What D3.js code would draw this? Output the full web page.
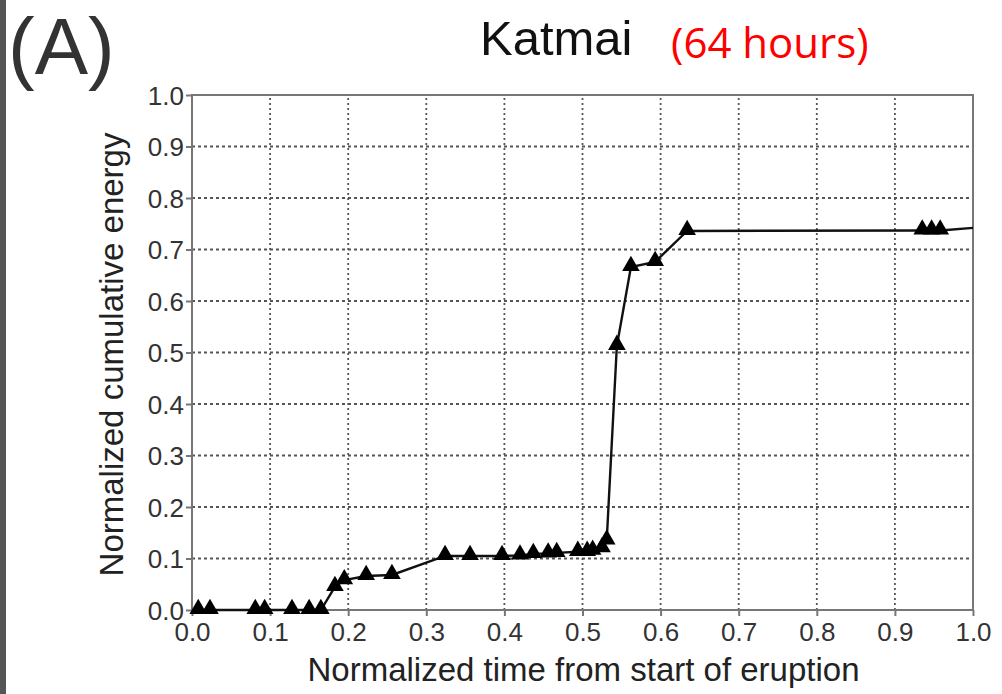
<!DOCTYPE html>
<html>
<head>
<meta charset="utf-8">
<script src="https://cdn.jsdelivr.net/npm/d3@7"></script>
<style>
  body { margin: 0; background: #fff; }
  svg { display: block; }
</style>
</head>
<body>
<svg id="chart" width="1002" height="694"></svg>
<script>
'use strict';
// Katmai eruption, normalized cumulative energy vs normalized time
let timeVals = [0.008, 0.023, 0.081, 0.093, 0.128, 0.15, 0.165, 0.183, 0.195, 0.223, 0.256,
    0.324, 0.356, 0.397, 0.42, 0.437, 0.456, 0.467, 0.494, 0.506, 0.513, 0.525, 0.531,
    0.544, 0.562, 0.593, 0.634, 0.935, 0.947, 0.958];
let energyVals = [0.0, 0.0, 0.0, 0.0, 0.0, 0.0, 0.0, 0.045, 0.058, 0.066, 0.068,
    0.105, 0.105, 0.105, 0.106, 0.109, 0.11, 0.111, 0.113, 0.113, 0.115, 0.12, 0.135,
    0.513, 0.666, 0.676, 0.736, 0.737, 0.737, 0.737];
// line continues to the right edge without a marker
let lineEnd = {t: 1.0, e: 0.742};
let tickVals = [0, 0.1, 0.2, 0.3, 0.4, 0.5, 0.6, 0.7, 0.8, 0.9, 1.0];

let points = timeVals.map((t, i) => ({t: t, e: energyVals[i]}));

let svg = d3.select("#chart"),
    margin = {top: 95, bottom: 84, left: 192, right: 29},
    width = +svg.attr("width"),
    height = +svg.attr("height");

let x = d3.scaleLinear().domain([0, 1]).range([margin.left, width - margin.right]);
let y = d3.scaleLinear().domain([0, 1]).range([height - margin.bottom, margin.top]);

let font = "'Liberation Sans', Arial, Helvetica, sans-serif";

// dark strip on the left edge
svg.append("rect").attr("x", 0).attr("y", 0).attr("width", 6).attr("height", height)
    .attr("fill", "#555");

// grid
let grid = svg.append("g").attr("class", "grid");
grid.selectAll("line.v").data(tickVals.slice(1, -1)).enter().append("line")
    .attr("x1", d => x(d)).attr("x2", d => x(d))
    .attr("y1", y(0)).attr("y2", y(1))
    .attr("stroke", "#555").attr("stroke-width", 1.8).attr("stroke-dasharray", "2,3");
grid.selectAll("line.h").data(tickVals.slice(1, -1)).enter().append("line")
    .attr("x1", x(0)).attr("x2", x(1))
    .attr("y1", d => y(d)).attr("y2", d => y(d))
    .attr("stroke", "#555").attr("stroke-width", 1.8).attr("stroke-dasharray", "3,3");

// frame
svg.append("rect")
    .attr("x", x(0)).attr("y", y(1))
    .attr("width", x(1) - x(0)).attr("height", y(0) - y(1))
    .attr("fill", "none").attr("stroke", "#777").attr("stroke-width", 2);

let xAxis = svg.append("g")
    .attr("transform", "translate(0," + y(0) + ")")
    .call(d3.axisBottom(x).tickValues(tickVals).tickFormat(d3.format(".1f")).tickSize(6).tickPadding(7));
let yAxis = svg.append("g")
    .attr("transform", "translate(" + x(0) + ",0)")
    .call(d3.axisLeft(y).tickValues(tickVals).tickFormat(d3.format(".1f")).tickSize(6).tickPadding(2));

[xAxis, yAxis].forEach(a => {
    a.select(".domain").remove();
    a.selectAll(".tick line").attr("stroke", "#777").attr("stroke-width", 2);
    a.selectAll(".tick text")
        .attr("fill", "#333")
        .style("font-family", font)
        .style("font-size", "26px");
});
yAxis.selectAll(".tick text").attr("dy", "0.36em");

// data line
let line = d3.line().x(d => x(d.t)).y(d => y(d.e));
svg.append("path")
    .attr("d", line(points.concat([lineEnd])))
    .attr("fill", "none")
    .attr("stroke", "#111")
    .attr("stroke-width", 2.4);

svg.selectAll("path.tri").data(points).enter().append("path")
    .attr("class", "tri")
    .attr("d", d3.symbol().type(d3.symbolTriangle).size(135))
    .attr("transform", d => "translate(" + x(d.t) + "," + (y(d.e) - 1) + ")")
    .attr("fill", "#000");

// titles
svg.append("text").attr("x", 8).attr("y", 74)
    .style("font-family", font).style("font-size", "80px").attr("fill", "#333")
    .text("(A)");
svg.append("text").attr("x", 480).attr("y", 55)
    .style("font-family", font).style("font-size", "49px").attr("fill", "#111")
    .text("Katmai");
svg.append("text").attr("x", 671).attr("y", 58)
    .style("font-family", "'Open Sans', 'Noto Sans', sans-serif").style("font-size", "42px").attr("fill", "#f00")
    .text("(64 hours)");

// axis labels
svg.append("text")
    .attr("x", (x(0) + x(1)) / 2 + 1).attr("y", 681)
    .attr("text-anchor", "middle")
    .style("font-family", font).style("font-size", "33px").attr("fill", "#222")
    .text("Normalized time from start of eruption");
svg.append("text")
    .attr("transform", "translate(123," + ((y(0) + y(1)) / 2 + 2) + ") rotate(-90)")
    .attr("text-anchor", "middle")
    .style("font-family", font).style("font-size", "33px").attr("fill", "#222")
    .text("Normalized cumulative energy");
</script>
</body>
</html>
